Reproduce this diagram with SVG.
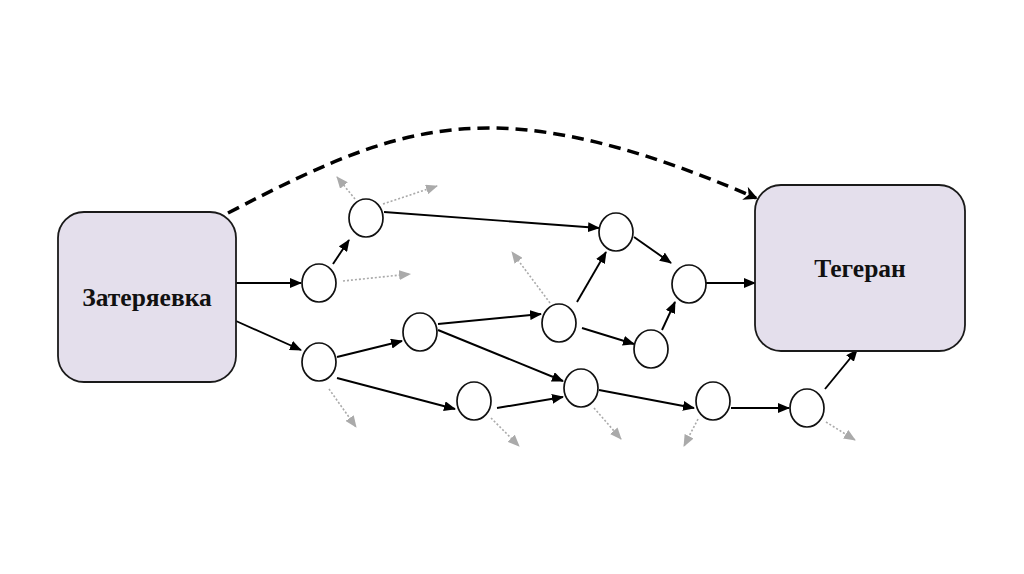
<svg xmlns="http://www.w3.org/2000/svg" width="1024" height="574" viewBox="0 0 1024 574">
<defs>
<style>
.box{fill:#e4dfec;stroke:#1a1a1a;stroke-width:1.8}
.nd{fill:#fff;stroke:#111;stroke-width:1.7}
.lbl{font-family:"Liberation Serif",serif;font-weight:bold;font-size:25.5px;fill:#111;text-anchor:middle}
.e{stroke:#000;stroke-width:1.9;fill:none;marker-end:url(#ah)}
.g{stroke:#aaa;stroke-width:1.6;stroke-dasharray:2 2;fill:none;marker-end:url(#gh)}
.d{stroke:#000;stroke-width:3.5;stroke-dasharray:12 7;fill:none;marker-end:url(#dh)}
</style>
<marker id="ah" markerUnits="userSpaceOnUse" markerWidth="12" markerHeight="10" refX="11" refY="5" orient="auto"><path d="M0,0 L12,5 L0,10 z" fill="#000"/></marker>
<marker id="gh" markerUnits="userSpaceOnUse" markerWidth="12" markerHeight="10" refX="11" refY="5" orient="auto"><path d="M0,0 L12,5 L0,10 z" fill="#aaa"/></marker>
<marker id="dh" markerUnits="userSpaceOnUse" markerWidth="14" markerHeight="14" refX="12" refY="7" orient="auto"><path d="M0,0 L14,7 L0,14 L4,7 z" fill="#000"/></marker>
</defs>
<rect width="1024" height="574" fill="#fff"/>
<g id="connectors">
<path class="d" d="M228,213 C330,160 400,128 489,128 C580,128 680,165 756,198"/>
<line class="e" x1="236" y1="283" x2="301" y2="283"/>
<line class="e" x1="236" y1="321" x2="301" y2="350"/>
<line class="e" x1="333" y1="264" x2="349" y2="240"/>
<line class="e" x1="384" y1="212" x2="599" y2="228"/>
<line class="e" x1="337" y1="357" x2="402" y2="341"/>
<line class="e" x1="337" y1="378" x2="455" y2="409"/>
<line class="e" x1="438" y1="324" x2="541" y2="314"/>
<line class="e" x1="438" y1="330" x2="563" y2="381"/>
<line class="e" x1="577" y1="302" x2="606" y2="252"/>
<line class="e" x1="582" y1="328" x2="634" y2="344"/>
<line class="e" x1="634" y1="237" x2="671" y2="263"/>
<line class="e" x1="662" y1="330" x2="675" y2="302"/>
<line class="e" x1="706" y1="283" x2="755" y2="283"/>
<line class="e" x1="497" y1="408" x2="563" y2="397"/>
<line class="e" x1="599" y1="390" x2="694" y2="408"/>
<line class="e" x1="731" y1="408" x2="789" y2="408"/>
<line class="e" x1="825" y1="389" x2="857" y2="350"/>
<line class="g" x1="355" y1="199" x2="337" y2="177"/>
<line class="g" x1="383" y1="204" x2="437" y2="186"/>
<line class="g" x1="343" y1="281" x2="410" y2="274"/>
<line class="g" x1="329" y1="389" x2="356" y2="427"/>
<line class="g" x1="550" y1="303" x2="512" y2="252"/>
<line class="g" x1="491" y1="418" x2="519" y2="446"/>
<line class="g" x1="594" y1="408" x2="621" y2="439"/>
<line class="g" x1="698" y1="419" x2="684" y2="446"/>
<line class="g" x1="826" y1="422" x2="855" y2="440"/>
</g>
<g id="zateryaevka"><rect class="box" x="58" y="212" width="178" height="170" rx="26"/><text class="lbl" x="147" y="306">Затеряевка</text></g>
<g id="tegeran"><rect class="box" x="755" y="185" width="210" height="166" rx="26"/><text class="lbl" x="860" y="277">Тегеран</text></g>
<g id="nA"><ellipse class="nd" cx="366" cy="218" rx="17" ry="19"/></g>
<g id="nB"><ellipse class="nd" cx="319" cy="283" rx="17" ry="19"/></g>
<g id="nC"><ellipse class="nd" cx="319" cy="362" rx="17" ry="19"/></g>
<g id="nD"><ellipse class="nd" cx="420" cy="332" rx="17" ry="19"/></g>
<g id="nE"><ellipse class="nd" cx="616" cy="232" rx="17" ry="19"/></g>
<g id="nF"><ellipse class="nd" cx="559" cy="323" rx="17" ry="19"/></g>
<g id="nG"><ellipse class="nd" cx="689" cy="284" rx="17" ry="19"/></g>
<g id="nH"><ellipse class="nd" cx="651" cy="349" rx="17" ry="19"/></g>
<g id="nI"><ellipse class="nd" cx="474" cy="401" rx="17" ry="19"/></g>
<g id="nJ"><ellipse class="nd" cx="581" cy="388" rx="17" ry="19"/></g>
<g id="nK"><ellipse class="nd" cx="713" cy="401" rx="17" ry="19"/></g>
<g id="nL"><ellipse class="nd" cx="807" cy="408" rx="17" ry="19"/></g>
</svg>
